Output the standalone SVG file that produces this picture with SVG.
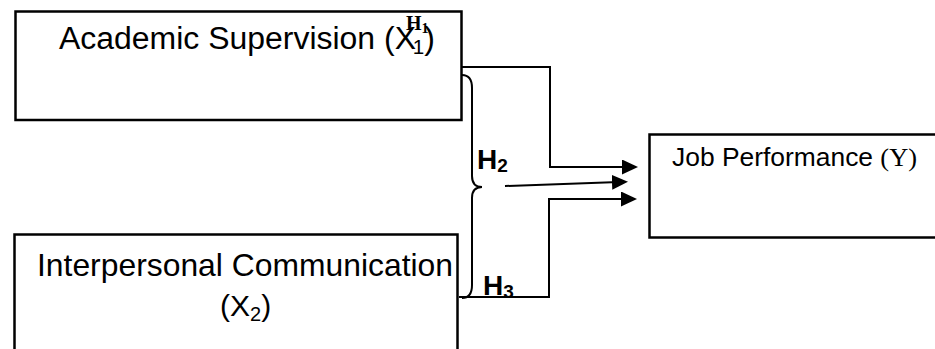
<svg xmlns="http://www.w3.org/2000/svg" width="935" height="349" viewBox="0 0 935 349">
<style>
.box{fill:#fff;stroke:#000;stroke-width:2.5}
.lbl{font-family:"Liberation Sans",Arial,sans-serif;fill:#000}
.ser{font-family:"Liberation Serif","Times New Roman",serif;fill:#000}
.hb{font-family:"Liberation Sans",Arial,sans-serif;font-weight:bold;fill:#000}
.con{fill:none;stroke:#000;stroke-width:2}
</style>
<defs>
<marker id="arr" markerUnits="userSpaceOnUse" markerWidth="16" markerHeight="15" refX="0" refY="7.5" orient="auto">
<path d="M0,0 L16,7.5 L0,15 z" fill="#000"/>
</marker>
</defs>
<rect width="935" height="349" fill="#fff"/>
<g id="node-x1">
<rect class="box" x="15.5" y="11.5" width="446" height="108.5"/>
<text class="lbl" font-size="31" x="59" y="49" textLength="376" lengthAdjust="spacingAndGlyphs">Academic Supervision (X<tspan font-size="20" dy="5" dx="-3">1</tspan><tspan dy="-5">)</tspan></text>
</g>
<g id="node-x2">
<rect class="box" x="14.5" y="234.5" width="443" height="130"/>
<text class="lbl" font-size="31.5" x="37" y="276" textLength="416" lengthAdjust="spacingAndGlyphs">Interpersonal Communication</text>
<text class="lbl" font-size="30" x="220" y="316">(X<tspan font-size="20" dy="5">2</tspan><tspan dy="-5">)</tspan></text>
</g>
<g id="node-y">
<rect class="box" x="649.5" y="134.5" width="300" height="103"/>
<text class="lbl" font-size="26" x="672" y="166" textLength="245" lengthAdjust="spacingAndGlyphs">Job Performance <tspan class="ser">(Y)</tspan></text>
</g>
<g id="connectors">
<path class="con" d="M462,67 H550 V167 H622" marker-end="url(#arr)"/>
<path class="con" d="M505,186 L612,182.3" marker-end="url(#arr)"/>
<path class="con" d="M459,297 H549 V199 H621" marker-end="url(#arr)"/>
<path class="con" d="M462,75 Q472,75 472,88 V176 Q472,187 482,187 Q472,187 472,198 V285 Q472,298 462,298"/>
</g>
<g id="labels">
<text class="ser" font-weight="bold" font-size="20" x="406" y="30">H<tspan font-size="14" dy="3">1</tspan></text>
<text class="hb" font-size="28" x="477" y="169">H<tspan font-size="19" dy="3">2</tspan></text>
<text class="hb" font-size="28" x="483" y="295">H<tspan font-size="19" dy="3">3</tspan></text>
</g>
</svg>
